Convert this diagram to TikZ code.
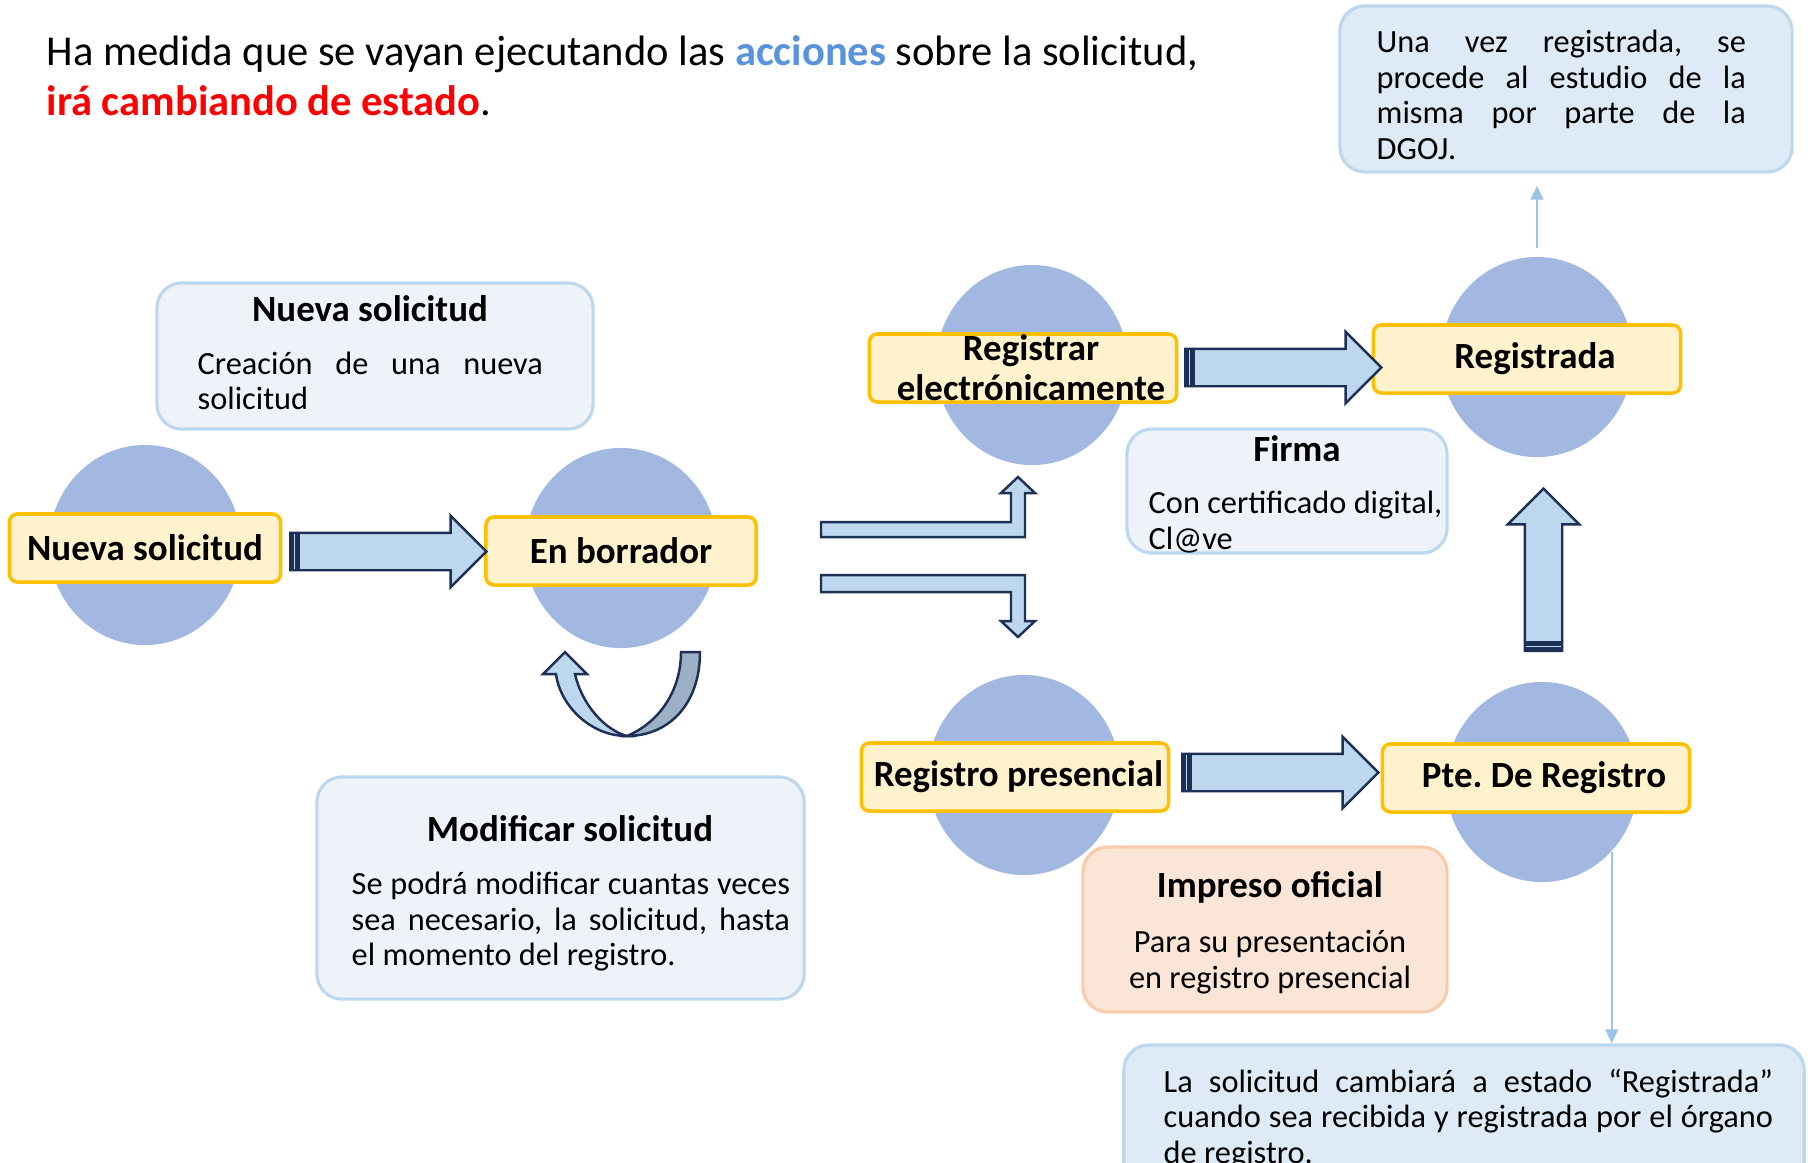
\documentclass[tikz,border=0pt]{standalone}
\usepackage{fontspec}
\setmainfont{Carlito}
\usepackage{tikz}
\usetikzlibrary{shapes.geometric,shapes.arrows,arrows.meta,calc}

\definecolor{circfill}{RGB}{162,184,224}
\definecolor{lblfill}{RGB}{255,242,204}
\definecolor{lbldraw}{RGB}{255,192,0}
\definecolor{arrfill}{RGB}{189,215,238}
\definecolor{arrdraw}{RGB}{30,48,86}
\definecolor{uturn}{RGB}{157,175,196}
\definecolor{notefill}{RGB}{238,243,250}
\definecolor{notedraw}{RGB}{189,215,238}
\definecolor{infofill}{RGB}{222,235,247}
\definecolor{peachfill}{RGB}{251,229,214}
\definecolor{peachdraw}{RGB}{248,203,173}
\definecolor{thinarr}{RGB}{157,195,230}
\definecolor{accblue}{RGB}{89,147,219}
\definecolor{accred}{RGB}{255,0,0}
\newcommand{\holgura}{\tolerance=10000\relax}
\frenchspacing

\begin{document}
\begin{tikzpicture}[x=0.01cm,y=-0.01cm,
  estado/.style={ellipse,fill=circfill,minimum width=1.92cm,minimum height=2cm,inner sep=0pt},
  etiqueta/.style={rectangle,rounded corners=0.8mm,draw=lbldraw,fill=lblfill,line width=1pt,minimum height=0.68cm,inner sep=0pt,font=\fontsize{10.5}{11.4}\selectfont\bfseries},
  flecha/.style={single arrow,draw=arrdraw,fill=arrfill,line width=0.7pt,minimum width=0.69cm,single arrow head extend=0.17cm,inner xsep=0pt,inner ysep=0.175cm,anchor=west},
  cola/.style={draw=arrdraw,double=arrfill,double distance=0.4pt,line width=1.35pt},
  nota/.style={rectangle,rounded corners=2.5mm,draw=notedraw,fill=notefill,line width=0.9pt},
  titulo/.style={inner sep=0pt,font=\fontsize{10.5}{12}\selectfont\bfseries},
  cuerpo/.style={inner sep=0pt,font=\fontsize{9.2}{10.1}\selectfont\holgura,align=justify},
  fina/.style={draw=thinarr,line width=0.7pt,-{Triangle[length=4pt,width=3.6pt]}}
]
\useasboundingbox (0,0) rectangle (1808,1162);
\clip (0,0) rectangle (1808,1162);

\node[anchor=west,align=left,inner sep=0pt,font=\fontsize{12.1}{14.2}\selectfont] (cabecera) at (46,76)
  {Ha medida que se vayan ejecutando las {\color{accblue}\bfseries acciones} sobre la solicitud,\\{\color{accred}\bfseries irá cambiando de estado}.};

% estados
\node[estado] (cnsol) at (145,545) {};
\node[estado] (cborr) at (621,548) {};
\node[estado] (crelec) at (1032,365) {};
\node[estado] (cregd) at (1537,357) {};
\node[estado] (crpres) at (1024,775) {};
\node[estado] (cpte) at (1542,782) {};

\node[etiqueta,minimum width=2.71cm] (nsol) at (145,548) {Nueva solicitud};
\node[etiqueta,minimum width=2.70cm] (borr) at (621,551) {En borrador};
\node[etiqueta,minimum width=3.07cm] (relec) at (1023,368) {};
\node[inner sep=0pt,align=center,font=\fontsize{10.5}{11.4}\selectfont\bfseries] (relectxt) at ([xshift=0.08cm]relec) {Registrar\\electrónicamente};
\node[etiqueta,minimum width=3.07cm] (regd) at (1527,359) {\hspace*{0.16cm}Registrada};
\node[etiqueta,minimum width=3.07cm] (rpres) at (1015,777) {\hspace*{0.07cm}Registro presencial};
\node[etiqueta,minimum width=3.07cm] (pte) at (1536,778) {\hspace*{0.16cm}Pte. De Registro};

% flechas
\node[flecha,minimum height=1.96cm] (a1) at (289,551.5) {};
\draw[cola] ($(a1.west)+(5.5,-17.5)$) -- ($(a1.west)+(5.5,17.5)$);
\node[flecha,minimum height=1.96cm] (a2) at (1184,367.5) {};
\draw[cola] ($(a2.west)+(5.5,-17.5)$) -- ($(a2.west)+(5.5,17.5)$);
\node[flecha,minimum height=1.96cm] (a3) at (1181,772.5) {};
\draw[cola] ($(a3.west)+(5.5,-17.5)$) -- ($(a3.west)+(5.5,17.5)$);
\node[flecha,minimum height=1.62cm,minimum width=0.71cm,rotate=90] (a4) at (1543.5,652) {};
\draw[cola] ($(a4.west)+(-17.5,-5.5)$) -- ($(a4.west)+(17.5,-5.5)$);

\draw[draw=arrdraw,fill=arrfill,line width=0.7pt] (821,522) -- (1011,522) -- (1011,493) -- (1001,493) -- (1018,477)
  -- (1035,493) -- (1025,493) -- (1025,537) -- (821,537) -- cycle;
\draw[draw=arrdraw,fill=arrfill,line width=0.7pt] (821,575) -- (1025,575) -- (1025,621) -- (1035,621) -- (1018,637)
  -- (1001,621) -- (1011,621) -- (1011,592) -- (821,592) -- cycle;

% vuelta
\draw[draw=arrdraw,fill=uturn,line width=0.7pt] (681,652) -- (700,652) .. controls (700,705) and (668,736) .. (627,736)
  .. controls (660,722) and (681,690) .. (681,652) -- cycle;
\draw[draw=arrdraw,fill=arrfill,line width=0.7pt] (627,736) .. controls (590,736) and (560,705) .. (556,674) -- (543,674)
  -- (565,652) -- (587,674) -- (575,674) .. controls (582,705) and (605,730) .. (627,736) -- cycle;

% notas
\node[nota,minimum width=4.36cm,minimum height=1.46cm] (nnsol) at (375,356) {};
\node[titulo] (nnsoltit) at (370,309) {Nueva solicitud};
\node[cuerpo,text width=3.45cm,anchor=west] (nnsoltxt) at (197,381) {Creación de una nueva\linebreak solicitud};

\node[nota,minimum width=4.87cm,minimum height=2.22cm] (nmod) at (560.5,888) {};
\node[titulo] (nmodtit) at (570,829) {Modificar solicitud};
\node[cuerpo,text width=4.38cm,anchor=west] (nmodtxt) at (351,922)
  {Se podrá modificar cuantas veces\linebreak sea necesario, la solicitud, hasta\linebreak el momento del registro.};

\node[nota,minimum width=3.20cm,minimum height=1.24cm] (nfirma) at (1287,491) {};
\node[titulo] (nfirmatit) at (1297,449) {Firma};
\node[cuerpo,align=left,anchor=west] (nfirmatxt) at (1148,522) {Con certificado digital,\\Cl@ve};

\node[nota,draw=peachdraw,fill=peachfill,minimum width=3.64cm,minimum height=1.65cm] (nimp) at (1265,929.5) {};
\node[titulo] (nimptit) at (1270,887) {Impreso oficial};
\node[cuerpo,align=center] (nimptxt) at (1270,962) {Para su presentación\\en registro presencial};

\node[nota,fill=infofill,minimum width=4.52cm,minimum height=1.66cm] (dgoj) at (1566,89) {};
\node[cuerpo,text width=3.69cm,anchor=west] (dgojtxt) at (1376,95)
  {Una vez registrada, se\linebreak procede al estudio de la\linebreak misma por parte de la\linebreak DGOJ.};

\node[nota,fill=infofill,minimum width=6.80cm,minimum height=2.05cm] (cambio) at (1464,1147.5) {};
\node[cuerpo,text width=6.09cm,anchor=west] (cambiotxt) at (1163,1119)
  {La solicitud cambiará a estado “Registrada”\linebreak cuando sea recibida y registrada por el órgano\linebreak de registro.};

\draw[fina,shorten >=0.12cm] ([yshift=0.08cm]cregd.north) -- (cregd.north |- dgoj.south);
\draw[fina] (cpte.-45) -- (cpte.-45 |- cambio.north);

\end{tikzpicture}
\end{document}
